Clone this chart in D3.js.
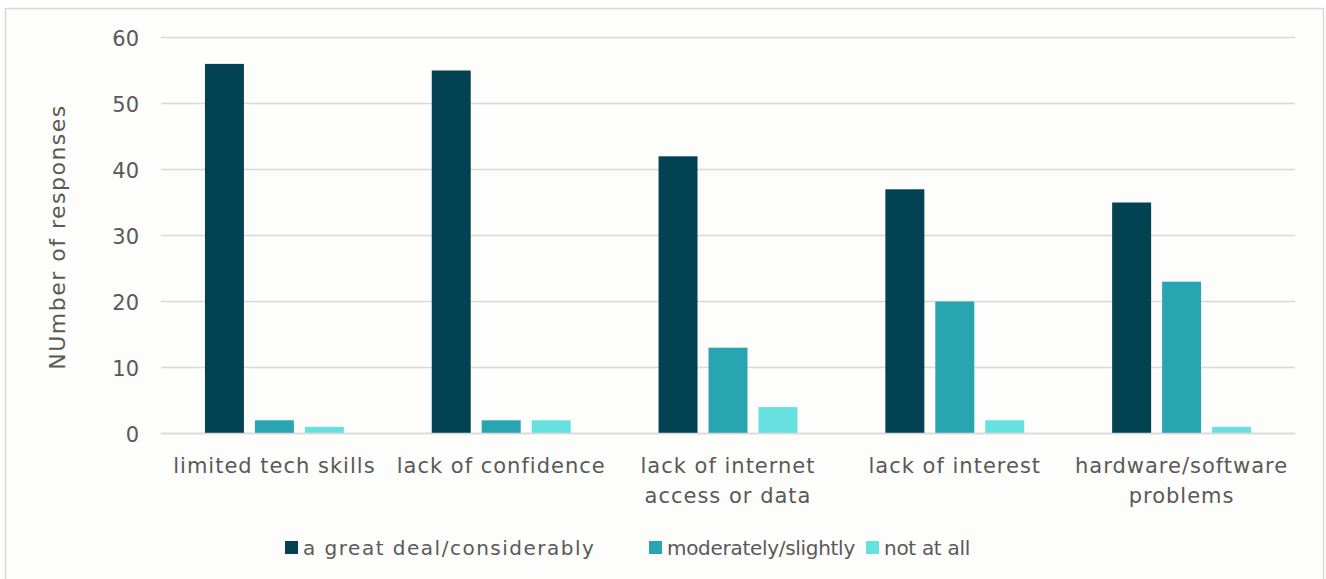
<!DOCTYPE html>
<html><head><meta charset="utf-8">
<script src="https://cdn.jsdelivr.net/npm/d3@7"></script>
<style>html,body{margin:0;padding:0;background:#fff;}svg{display:block;}</style>
</head><body><svg id="c" width="1326" height="579"></svg>
<script>
const categories = [["limited tech skills"],["lack of confidence"],["lack of internet","access or data"],["lack of interest"],["hardware/software","problems"]];
const seriesNames = ["a great deal/considerably","moderately/slightly","not at all"];
const greatDeal = [56,55,42,37,35];
const moderately = [2,2,13,20,23];
const notAtAll = [1,2,4,2,1];
const yTicks = [0,10,20,30,40,50,60];
const colors = ["#024253","#29A4B1","#67E0E0"];
const seriesValues = [greatDeal, moderately, notAtAll];

const FONT = "'DejaVu Sans', sans-serif";
const TXT = "#595959";
const svg = d3.select("#c");
svg.append("rect").attr("x",5.5).attr("y",8.5).attr("width",1318).attr("height",580)
  .attr("fill","#fdfdfb").attr("stroke","#d9d9d9").attr("stroke-width",1.5);

const L=161, R=1295, T=37.5, B=433.5;
const y = d3.scaleLinear().domain([0,60]).range([B,T]);
const x0 = d3.scaleBand().domain(d3.range(categories.length)).range([L,R]).padding(0);
const x1 = d3.scaleBand().domain(d3.range(3)).range([0,x0.bandwidth()]).paddingInner(0.22).paddingOuter(0.88);

// gridlines
svg.append("g").selectAll("line").data(yTicks).join("line")
  .attr("x1",L).attr("x2",R).attr("y1",d=>y(d)).attr("y2",d=>y(d))
  .attr("stroke","#d9d9d9").attr("stroke-width",1.5);

// y axis labels
const yAxis = d3.axisLeft(y).tickValues(yTicks).tickSize(0).tickPadding(0);
const gy = svg.append("g").attr("transform","translate(139,0)").call(yAxis);
gy.select(".domain").remove();
gy.selectAll("text").attr("font-family",FONT).attr("font-size",21).attr("fill",TXT).attr("dy","0.36em");

// bars
const groups = svg.append("g").selectAll("g").data(categories.map((c,i)=>i)).join("g")
  .attr("transform",i=>`translate(${x0(i)},0)`);
groups.selectAll("rect").data(i=>seriesValues.map((s,k)=>({k,v:s[i]}))).join("rect")
  .attr("x",d=>x1(d.k)).attr("width",x1.bandwidth())
  .attr("y",d=>y(d.v)).attr("height",d=>y(0)-y(d.v))
  .attr("fill",d=>colors[d.k]);

// x axis line
svg.append("line").attr("x1",L).attr("x2",R).attr("y1",y(0)).attr("y2",y(0))
  .attr("stroke","#d9d9d9").attr("stroke-width",1.5);

// category labels
const xl = svg.append("g");
categories.forEach((lines,i)=>{
  const cx = x0(i)+x0.bandwidth()/2;
  const t = xl.append("text").attr("x",cx).attr("y",473)
    .attr("text-anchor","middle").attr("font-family",FONT).attr("font-size",21)
    .attr("letter-spacing",1).attr("fill",TXT);
  lines.forEach((ln,j)=>t.append("tspan").attr("x",cx).attr("dy",j?30:0).text(ln));
});

// y title
svg.append("text").attr("transform","translate(65,237) rotate(-90)").attr("text-anchor","middle")
  .attr("font-family",FONT).attr("font-size",22).attr("letter-spacing",1.5).attr("fill",TXT).text("NUmber of responses");

// legend
const legendX = [285,649,866];
const lg = svg.append("g");
seriesNames.forEach((n,k)=>{
  lg.append("rect").attr("x",legendX[k]).attr("y",541).attr("width",13).attr("height",13).attr("fill",colors[k]);
  lg.append("text").attr("x",legendX[k]+18).attr("y",555).attr("font-family",FONT).attr("font-size",20)
    .attr("letter-spacing",k===0?1.5:-0.3).attr("fill",TXT).text(n);
});
</script></body></html>
